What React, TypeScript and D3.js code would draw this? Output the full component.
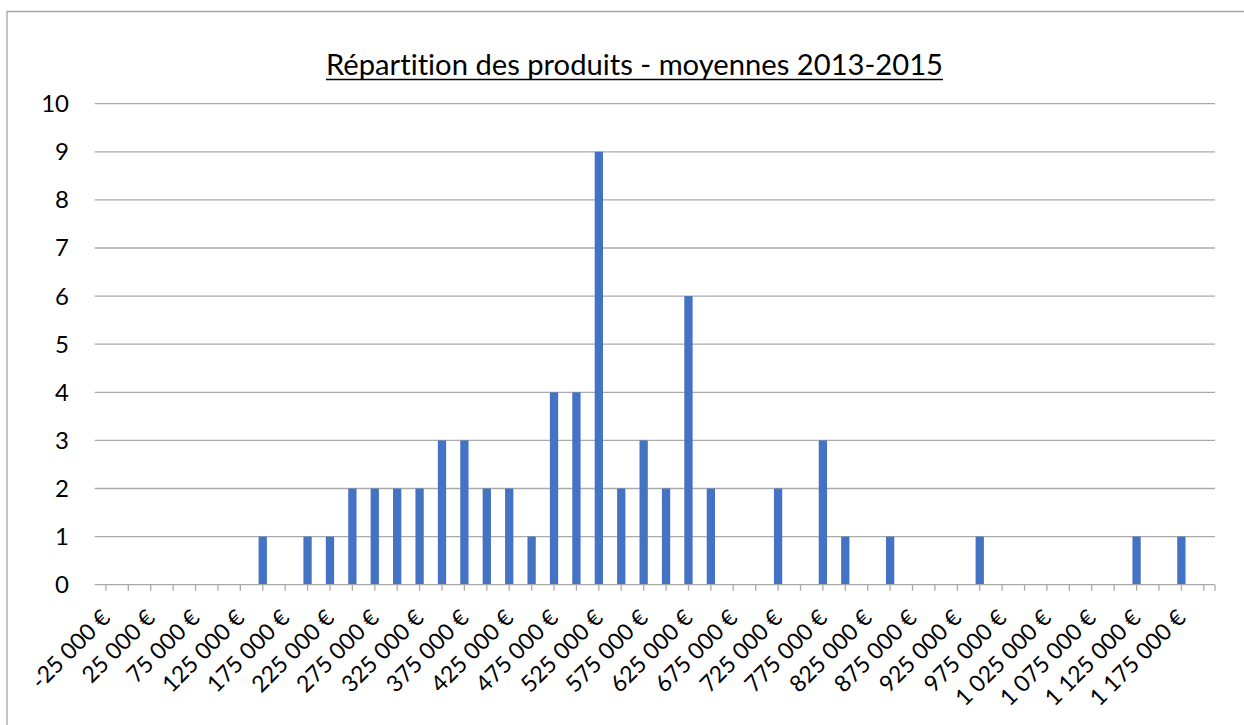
import React, { useEffect, useRef } from 'react';
import * as d3 from 'd3';

// bins (lower value of each class, in €)
const bins = [
  -25000, 0, 25000, 50000, 75000, 100000, 125000, 150000, 175000, 200000,
  225000, 250000, 275000, 300000, 325000, 350000, 375000, 400000, 425000, 450000,
  475000, 500000, 525000, 550000, 575000, 600000, 625000, 650000, 675000, 700000,
  725000, 750000, 775000, 800000, 825000, 850000, 875000, 900000, 925000, 950000,
  975000, 1000000, 1025000, 1050000, 1075000, 1100000, 1125000, 1150000, 1175000, 1200000,
];

// number of products per bin
const counts = [
  0, 0, 0, 0, 0, 0, 0, 1, 0, 1,
  1, 2, 2, 2, 2, 3, 3, 2, 2, 1,
  4, 4, 9, 2, 3, 2, 6, 2, 0, 0,
  2, 0, 3, 1, 0, 1, 0, 0, 0, 1,
  0, 0, 0, 0, 0, 0, 1, 0, 1, 0,
];

const yTicks = [0, 1, 2, 3, 4, 5, 6, 7, 8, 9, 10];

const title = 'Répartition des produits - moyennes 2013-2015';

const W = 1244;
const H = 725;
const FONT = 'Lato, "Open Sans", sans-serif';

export default function App() {
  const svgRef = useRef<SVGSVGElement>(null);

  useEffect(() => {
    const svg = d3.select(svgRef.current);
    svg.selectAll('*').remove();

    const left = 94.7, right = 1215, top = 103.7, bottom = 584.7;

    const fr = d3.formatLocale({
      decimal: ',',
      thousands: '\u00a0',
      grouping: [3],
      currency: ['', '\u00a0€'],
      minus: '-',
    });
    const fmt = fr.format('$,.0f');

    const x = d3.scaleBand<number>()
      .domain(bins)
      .range([left, right])
      .paddingInner(0)
      .paddingOuter(0);

    const y = d3.scaleLinear().domain([0, 10]).range([bottom, top]);

    // chart frame (runs off the page on right / bottom)
    svg.append('path')
      .attr('d', `M7,${H + 5} V11.5 H${W + 5}`)
      .attr('fill', 'none')
      .attr('stroke', '#a6a6a6')
      .attr('stroke-width', 1.3);

    // title
    svg.append('text')
      .attr('x', 634.5)
      .attr('y', 75)
      .attr('text-anchor', 'middle')
      .attr('font-family', FONT)
      .attr('font-size', 29)
      .attr('fill', '#000')
      .attr('textLength', 617)
      .attr('lengthAdjust', 'spacingAndGlyphs')
      .style('font-variant-ligatures', 'none')
      .text(title);
    svg.append('line')
      .attr('x1', 326).attr('x2', 943)
      .attr('y1', 79.5).attr('y2', 79.5)
      .attr('stroke', '#000')
      .attr('stroke-width', 1.5);

    // gridlines
    svg.append('g')
      .selectAll('line')
      .data(yTicks.filter(d => d > 0))
      .join('line')
      .attr('x1', left).attr('x2', right)
      .attr('y1', d => y(d)).attr('y2', d => y(d))
      .attr('stroke', '#aaaaaa')
      .attr('stroke-width', 1.3);

    // y labels
    svg.append('g')
      .selectAll('text')
      .data(yTicks)
      .join('text')
      .attr('x', 69)
      .attr('y', d => y(d))
      .attr('dy', '0.35em')
      .attr('text-anchor', 'end')
      .attr('font-family', FONT)
      .attr('font-size', 24)
      .attr('fill', '#000')
      .text(d => d);

    // bars
    const bw = x.bandwidth() * 0.37;
    svg.append('g')
      .selectAll('rect')
      .data(bins.map((b, i) => ({ b, v: counts[i] })).filter(d => d.v > 0))
      .join('rect')
      .attr('x', d => x(d.b)! + x.bandwidth() / 2 - bw / 2)
      .attr('y', d => y(d.v))
      .attr('width', bw)
      .attr('height', d => y(0) - y(d.v))
      .attr('fill', '#4472c4');

    // x axis line and ticks
    const ax = svg.append('g');
    ax.append('line')
      .attr('x1', left).attr('x2', right)
      .attr('y1', bottom).attr('y2', bottom)
      .attr('stroke', '#aaaaaa')
      .attr('stroke-width', 1.3);
    const tickXs = bins.map(b => x(b)! + x.bandwidth() / 2).concat([right]);
    ax.selectAll('line.tick')
      .data(tickXs)
      .join('line')
      .attr('class', 'tick')
      .attr('x1', d => d).attr('x2', d => d)
      .attr('y1', bottom).attr('y2', bottom + 6)
      .attr('stroke', '#aaaaaa')
      .attr('stroke-width', 1.3);

    // x labels, every other bin
    ax.selectAll('text')
      .data(bins.filter((_, i) => i % 2 === 0))
      .join('text')
      .attr('transform', d => `translate(${x(d)! + x.bandwidth() / 2},${bottom + 29}) rotate(-45)`)
      .attr('dy', '0.35em')
      .attr('text-anchor', 'end')
      .attr('font-family', FONT)
      .attr('font-size', 23)
      .attr('fill', '#000')
      .text(d => fmt(d));
  }, []);

  return (
    <svg
      ref={svgRef}
      width={W}
      height={H}
      style={{ position: 'absolute', left: 0, top: 0, background: '#fff' }}
    />
  );
}
